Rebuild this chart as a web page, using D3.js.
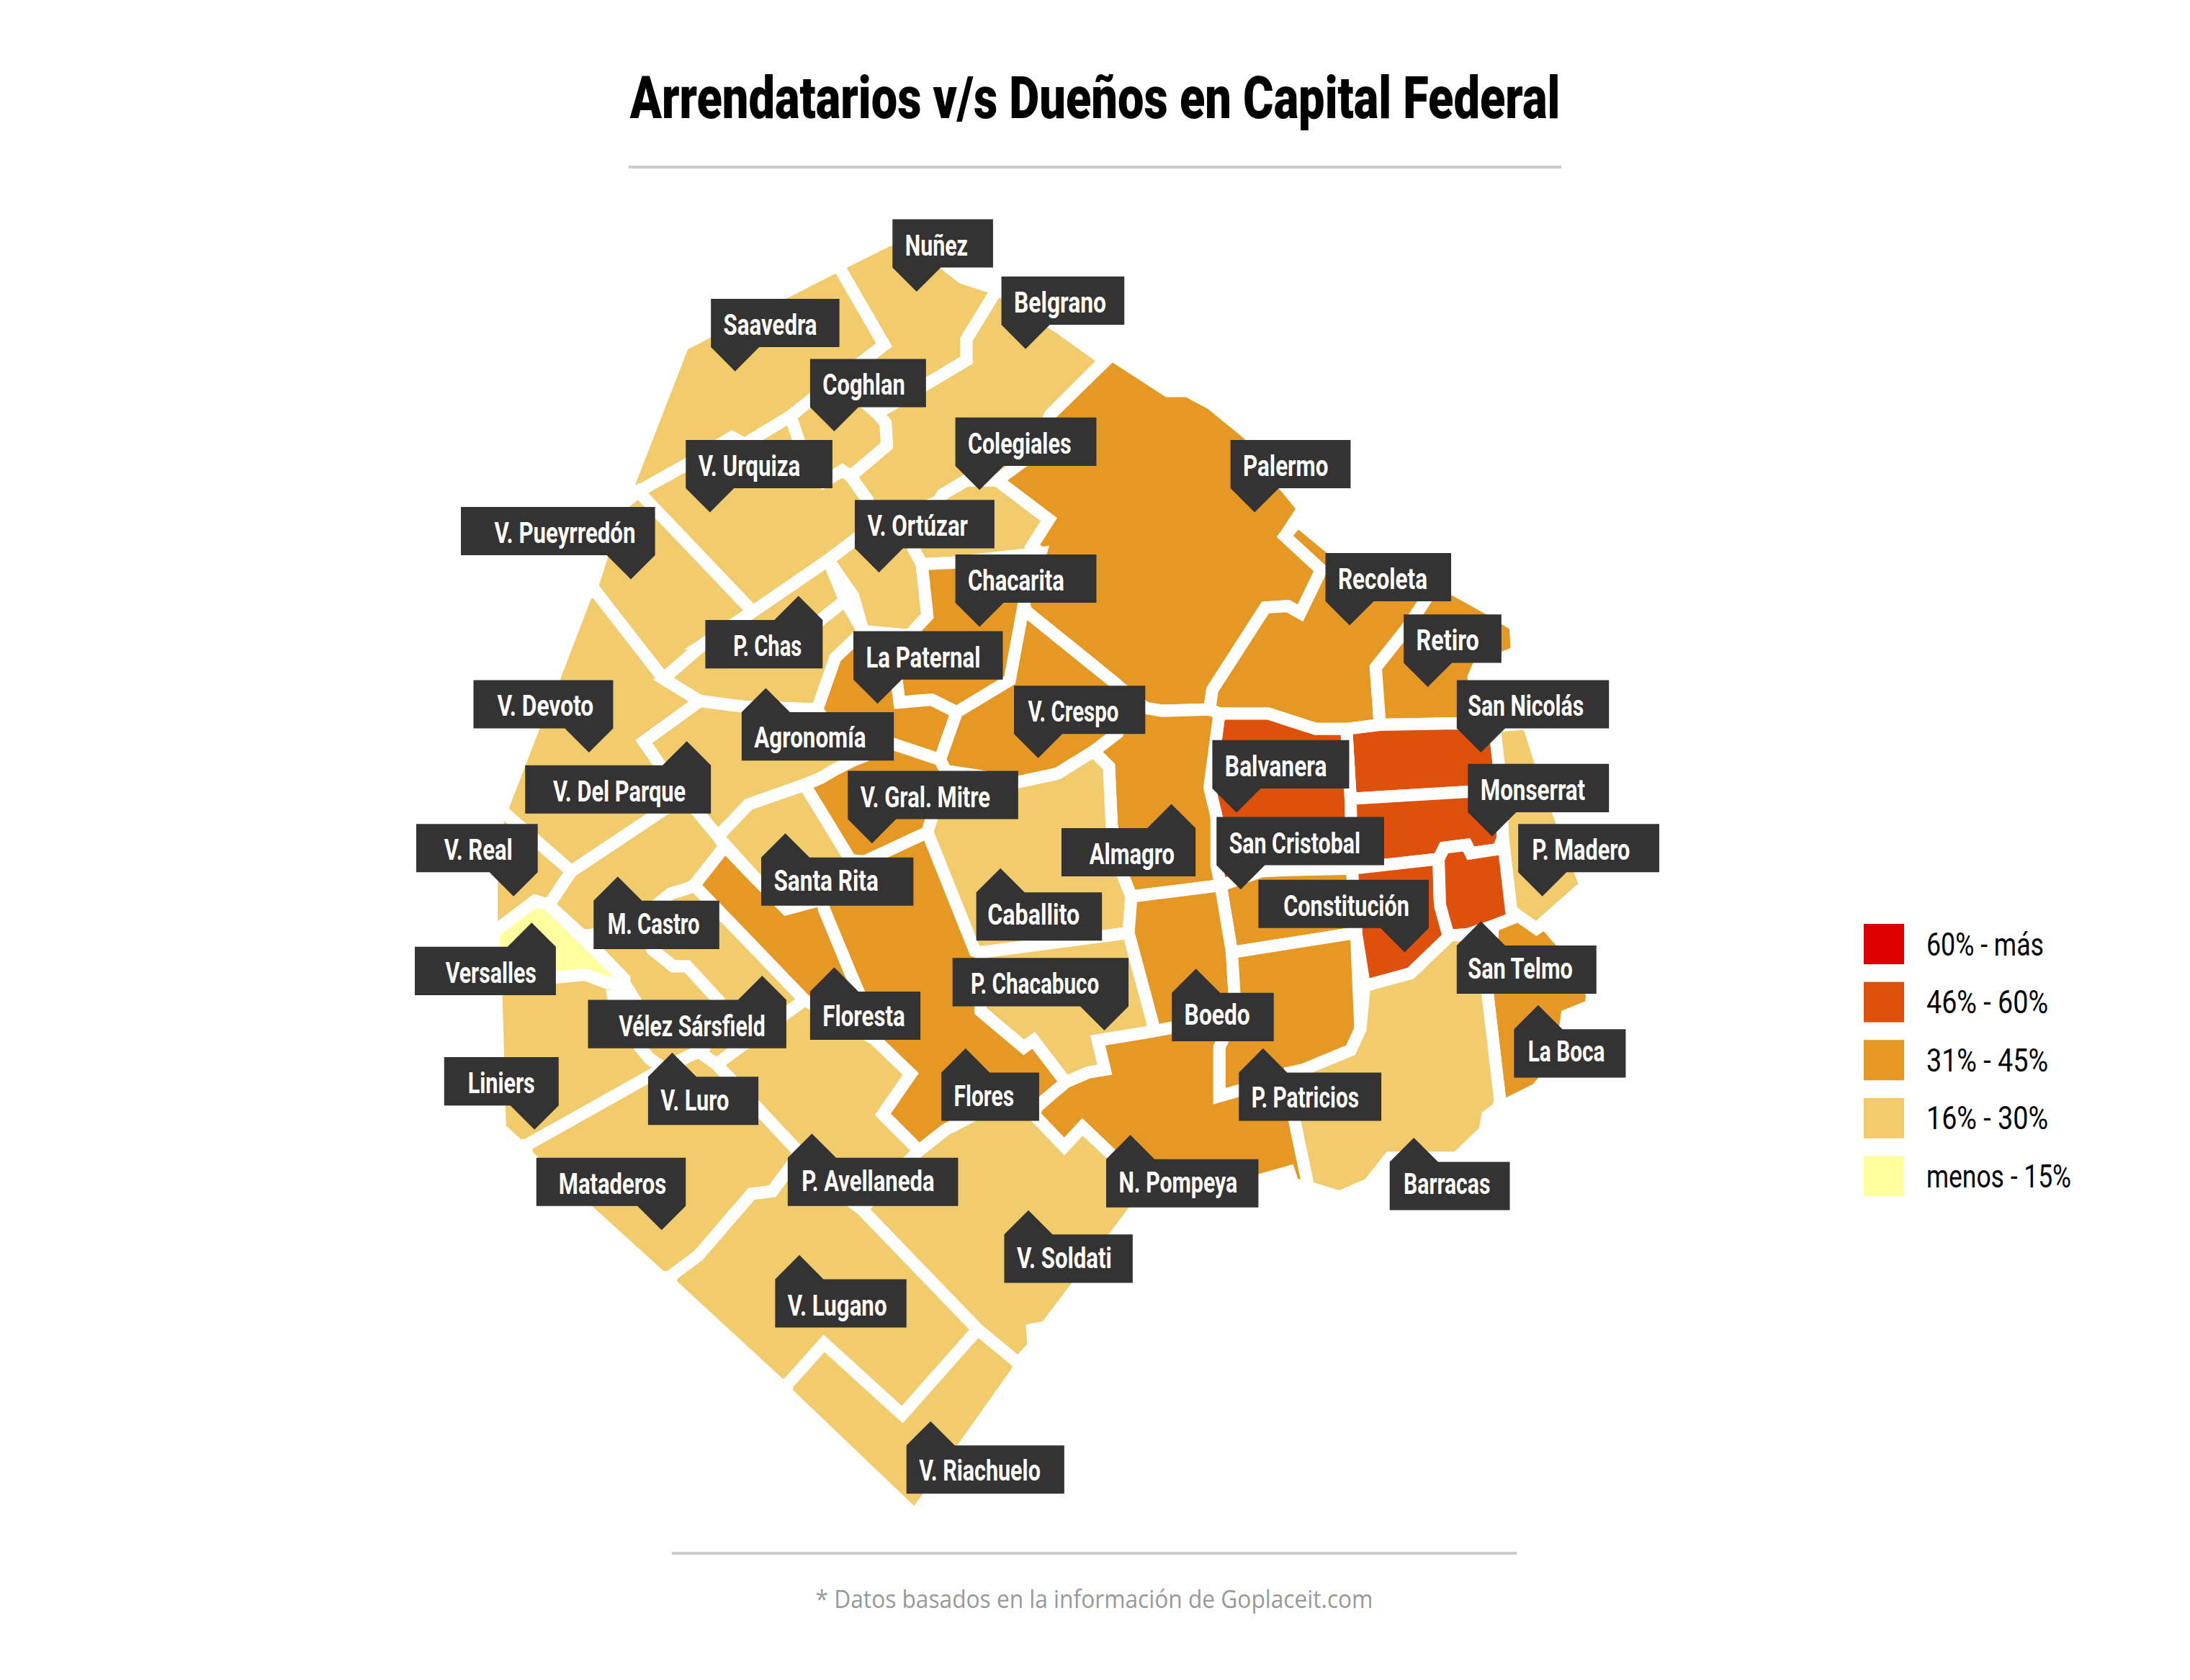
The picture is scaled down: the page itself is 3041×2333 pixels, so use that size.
<!DOCTYPE html>
<html>
<head>
<meta charset="utf-8">
<script src="https://cdn.jsdelivr.net/npm/d3@7"></script>
<style>
  html, body { margin: 0; padding: 0; background: #fff; }
</style>
</head>
<body>
<div id="mapa"></div>
<script>
const titulo = "Arrendatarios v/s Dueños en Capital Federal";
const nota = "* Datos basados en la información de Goplaceit.com";

// legend, top to bottom
const rangos = ["60% - más", "46% - 60%", "31% - 45%", "16% - 30%", "menos - 15%"];
const colores = ["#dd0000", "#df500d", "#e69825", "#f1cb6c", "#feff9f"];
const anchoLeyenda = [163, 169, 169, 169, 201];

const barrios = ["Nuñez", "Belgrano", "Saavedra", "Coghlan", "V. Urquiza", "Colegiales", "Palermo", "V. Ortúzar",
  "V. Pueyrredón", "Recoleta", "Chacarita", "Retiro", "P. Chas", "La Paternal", "San Nicolás", "V. Devoto",
  "V. Crespo", "Agronomía", "Balvanera", "V. Del Parque", "V. Gral. Mitre", "Monserrat", "San Cristobal", "V. Real",
  "Almagro", "P. Madero", "Santa Rita", "Constitución", "Caballito", "M. Castro", "Versalles", "San Telmo",
  "P. Chacabuco", "Boedo", "Floresta", "Vélez Sársfield", "La Boca", "Flores", "P. Patricios", "Liniers",
  "V. Luro", "Mataderos", "P. Avellaneda", "N. Pompeya", "Barracas", "V. Soldati", "V. Lugano", "V. Riachuelo"];

// range of each barrio, same order as barrios
const rangoBarrio = [3, 3, 3, 3, 3, 3, 2, 3,
  3, 2, 2, 2, 3, 2, 1, 3,
  2, 3, 1, 3, 2, 1, 2, 3,
  2, 3, 3, 1, 3, 3, 4, 1,
  3, 2, 2, 3, 2, 2, 2, 3,
  3, 3, 3, 2, 3, 3, 3, 3];

// barrio outlines in map units, same order as barrios
const contornos = [
  [[600,190],[638,171],[675,188],[689,199],[714,207],[692,243],[692,258],[628,296],[600,272],[633,247]],
  [[714,207],[759,235],[791,258],[752,297],[740,325],[714,344],[692,344],[675,354],[672,359],[650,368],[626,376],[621,358],[609,341],[635,319],[634,303],[628,296],[692,258],[692,243]],
  [[449,350],[489,247],[600,190],[633,247],[600,272],[581,286],[566,298],[533,318],[524,313],[491,333],[457,352]],
  [[566,298],[581,286],[600,272],[628,296],[634,303],[635,319],[609,341],[603,337],[590,345],[572,316]],
  [[457,352],[491,333],[524,313],[533,318],[566,298],[572,316],[590,345],[603,337],[609,341],[621,358],[626,376],[593,401],[539,438]],
  [[714,344],[751,372],[739,391],[745,396],[682,403],[660,404],[654,393],[650,368],[672,359],[675,354],[692,344]],
  [[796,254],[836,280],[850,280],[867,289],[894,311],[919,347],[933,364],[920,384],[946,408],[931,439],[922,434],[906,435],[868,494],[866,508],[832,509],[820,507],[805,495],[797,488],[735,438],[733,433],[745,396],[739,391],[751,372],[714,344],[740,325],[752,297]],
  [[626,376],[650,368],[654,393],[660,404],[664,441],[651,455],[618,452],[611,427],[593,401]],
  [[457,352],[539,438],[504,461],[475,486],[426,423],[424,420],[431,398],[446,361]],
  [[920,384],[929,373],[952,392],[1021,425],[1021,429],[1008,449],[985,478],[988,519],[964,522],[942,522],[908,511],[873,511],[866,508],[868,494],[906,435],[922,434],[931,439],[946,408]],
  [[660,404],[682,403],[745,396],[733,433],[723,487],[685,510],[667,501],[644,503],[641,480],[651,455],[664,441]],
  [[1021,429],[1021,425],[1039,421],[1066,436],[1085,448],[1086,467],[1058,478],[1055,485],[1056,490],[1070,520],[1042,518],[988,519],[985,478],[1008,449]],
  [[539,438],[593,401],[605,430],[565,462],[504,461]],
  [[618,452],[651,455],[641,480],[644,503],[667,501],[685,510],[673,544],[640,533],[610,545],[585,508],[598,471]],
  [[964,522],[988,519],[1042,518],[1070,520],[1075,565],[1051,567],[967,572]],
  [[426,423],[475,486],[501,502],[461,531],[472,547],[490,570],[409,624],[361,582],[360,578],[382,521],[397,485],[420,425]],
  [[733,433],[735,438],[797,488],[805,495],[800,525],[783,538],[757,554],[729,560],[677,552],[673,544],[685,510],[723,487]],
  [[475,486],[504,461],[565,462],[605,430],[618,452],[598,471],[585,508],[532,506],[501,502]],
  [[873,511],[908,511],[942,522],[964,522],[967,572],[968,622],[921,623],[903,624],[874,634],[871,620],[871,585],[866,564]],
  [[501,502],[532,506],[585,508],[610,545],[598,551],[588,557],[576,562],[536,576],[514,599],[490,570],[472,547],[461,531]],
  [[576,562],[588,557],[598,551],[610,545],[640,533],[673,544],[677,552],[664,596],[619,617],[609,616]],
  [[967,572],[1051,567],[1075,565],[1076,600],[1073,608],[1053,611],[1050,605],[1034,607],[1030,615],[968,622]],
  [[874,634],[903,624],[921,623],[968,622],[971,668],[882,682]],
  [[361,582],[409,624],[393,648],[383,645],[358,664],[352,663],[352,625],[357,585]],
  [[805,495],[820,507],[832,509],[866,508],[873,511],[866,564],[871,585],[871,620],[874,634],[810,642],[804,627],[796,592],[794,549],[783,538],[800,525]],
  [[1070,520],[1094,518],[1103,546],[1118,588],[1135,634],[1100,665],[1087,656],[1082,652],[1076,600],[1075,565]],
  [[514,599],[536,576],[576,562],[609,616],[589,644],[563,651],[541,629]],
  [[968,622],[1030,615],[1031,648],[1037,670],[1036,672],[1010,697],[977,706],[971,668]],
  [[664,596],[677,552],[729,560],[757,554],[783,538],[794,549],[796,592],[804,627],[810,642],[808,668],[702,682],[698,681]],
  [[409,624],[490,570],[514,599],[519,606],[497,634],[493,636],[480,640],[469,649],[466,665],[417,670],[393,648]],
  [[353,664],[358,664],[383,645],[393,648],[447,701],[447,704],[435,704],[419,698],[398,700],[355,700]],
  [[1030,615],[1034,607],[1050,605],[1053,611],[1073,608],[1076,600],[1082,652],[1087,656],[1069,663],[1051,669],[1037,670],[1031,648]],
  [[702,682],[808,668],[826,735],[823,739],[786,745],[791,766],[779,768],[763,775],[740,745],[733,750],[702,724]],
  [[810,642],[874,634],[882,682],[884,715],[883,727],[839,736],[823,739],[826,735],[808,668]],
  [[519,606],[541,629],[563,651],[589,644],[590,651],[609,697],[615,711],[626,744],[576,716],[497,634]],
  [[466,665],[469,649],[480,640],[493,636],[497,634],[576,716],[513,762],[500,753],[504,751],[514,716],[492,692],[482,692],[467,680]],
  [[1069,663],[1087,656],[1093,660],[1100,665],[1106,661],[1119,676],[1140,712],[1139,720],[1122,727],[1120,740],[1108,771],[1100,780],[1076,792],[1074,788],[1065,711]],
  [[664,596],[698,681],[702,682],[702,724],[733,750],[740,745],[763,775],[743,792],[700,797],[677,809],[658,824],[632,798],[652,769],[626,744],[615,711],[609,697],[590,651],[589,644],[609,616],[619,617]],
  [[882,682],[971,668],[974,737],[967,752],[933,766],[924,768],[926,790],[887,781],[873,785],[873,750],[883,727],[884,715]],
  [[355,700],[398,700],[419,698],[435,704],[447,704],[452,712],[439,713],[443,731],[465,758],[475,765],[377,820],[371,820],[358,808]],
  [[417,670],[466,665],[467,680],[482,692],[492,692],[514,716],[504,751],[500,753],[475,765],[465,758],[443,731],[439,713],[452,712],[447,704],[447,701]],
  [[377,820],[475,765],[500,753],[513,762],[571,824],[570,830],[553,853],[538,855],[500,899],[480,914],[474,915],[377,827]],
  [[513,762],[576,716],[626,744],[652,769],[632,798],[658,824],[650,832],[617,866],[570,830],[571,824]],
  [[743,792],[763,775],[779,768],[791,766],[786,745],[823,739],[839,736],[883,727],[873,750],[873,785],[887,781],[926,790],[927,803],[936,846],[936,850],[926,848],[923,839],[902,845],[830,860],[795,826],[775,807],[762,821],[740,798]],
  [[977,706],[1010,697],[1036,672],[1037,670],[1051,669],[1069,663],[1065,711],[1074,788],[1073,793],[1065,799],[1063,810],[1043,829],[995,829],[980,848],[959,857],[936,850],[936,846],[927,803],[924,768],[933,766],[967,752],[974,737]],
  [[658,824],[677,809],[700,797],[740,798],[762,821],[775,807],[795,826],[830,860],[812,867],[771,921],[749,950],[739,952],[740,964],[729,976],[700,952],[617,866],[650,832]],
  [[480,914],[500,899],[538,855],[553,853],[570,830],[617,866],[700,952],[646,1013],[590,962],[564,991],[559,992],[481,920]],
  [[564,991],[590,962],[646,1013],[700,952],[729,976],[729,981],[658,1081],[654,1085],[651,1081],[563,997]]
];

// label placement in map units, same order as barrios:
// left, right, top, pointer end, pointer direction, text start, text end
const etiquetas = [
  [639,711,157,"i",1,648,693], [717,805,198,"i",1,726,792], [509,601,214,"i",1,518,585], [580,663,257,"i",1,589,648],
  [491,596,315,"i",1,500,573], [684,785,299,"i",1,693,767], [881,967,315,"i",1,890,951], [612,712,358,"i",1,621,693],
  [330,469,363,"d",1,354,455], [949,1039,396,"i",1,958,1022], [684,785,397,"i",1,693,762], [1005,1075,440,"i",1,1014,1059],
  [505,589,444,"d",-1,525,574], [611,718,452,"i",1,620,702], [1043,1152,487,"i",1,1051,1134], [339,439,487,"d",1,356,425],
  [726,820,491,"i",1,736,801], [531,640,510,"i",-1,540,620], [868,966,530,"i",1,877,950], [376,509,548,"d",-1,396,491],
  [607,729,552,"i",1,616,709], [1051,1152,547,"i",1,1060,1135], [871,991,585,"i",1,880,974], [298,385,590,"d",1,318,367],
  [760,856,593,"d",-1,780,841], [1087,1188,590,"i",1,1097,1167], [545,654,614,"i",-1,554,629], [901,1023,630,"d",1,919,1009],
  [699,789,639,"i",-1,707,773], [425,515,645,"i",-1,435,501], [297,398,678,"d",-1,319,384], [1043,1143,677,"i",-1,1051,1126],
  [682,808,686,"d",1,695,787], [839,912,711,"i",-1,848,895], [580,659,710,"i",-1,589,648], [421,563,716,"d",-1,443,548],
  [1084,1164,737,"i",-1,1094,1149], [674,744,768,"i",-1,683,726], [887,989,768,"i",-1,896,973], [318,400,757,"d",1,335,383],
  [464,543,771,"i",-1,473,522], [384,491,829,"d",1,400,477], [564,686,829,"i",-1,574,669], [792,901,830,"i",-1,801,886],
  [995,1081,832,"i",-1,1005,1067], [719,811,884,"i",-1,728,796], [555,649,916,"i",-1,564,635], [649,762,1035,"i",-1,658,745]
];

// baseline of each label below the top of its box
const lineaTexto = [25.8, 25.8, 25.8, 25.8, 25.8, 25.8, 25.8, 25.8,
  25.8, 25.8, 25.8, 25.8, 26, 25.8, 25.8, 25.8,
  25.8, 25, 25.8, 26, 25.8, 25.8, 25.8, 25.8,
  26, 25.8, 24, 25.8, 23, 24, 26, 24,
  25.8, 23, 25, 26, 23, 24, 25, 25.8,
  24, 25.8, 24, 24, 23, 24, 26, 25];

const ancho = 3041, alto = 2333;
const x = d3.scaleLinear().domain([0, 1568]).range([0, ancho]);
const y = d3.scaleLinear().domain([0, 1203]).range([0, alto]);
const color = d3.scaleOrdinal(d3.range(rangos.length), colores);

const altoCaja = 34.6, mediaPunta = 17.3;
const fuente = "Roboto, 'Open Sans', sans-serif";

const svg = d3.select("#mapa").append("svg")
  .attr("width", ancho)
  .attr("height", alto)
  .style("display", "block");

svg.append("text")
  .attr("x", x(451))
  .attr("y", y(84.6))
  .attr("textLength", x(666))
  .attr("lengthAdjust", "spacingAndGlyphs")
  .style("font-family", fuente)
  .style("font-weight", 900)
  .style("font-size", "82px")
  .text(titulo);

svg.append("line")
  .attr("x1", x(450)).attr("x2", x(1118))
  .attr("y1", y(119.6)).attr("y2", y(119.6))
  .style("stroke", "#cccccc").style("stroke-width", 4);

svg.append("line")
  .attr("x1", x(481)).attr("x2", x(1086))
  .attr("y1", y(1112.3)).attr("y2", y(1112.3))
  .style("stroke", "#cccccc").style("stroke-width", 4);

svg.append("text")
  .attr("x", x(584))
  .attr("y", y(1151.2))
  .attr("textLength", x(399))
  .attr("lengthAdjust", "spacingAndGlyphs")
  .style("font-family", "'Open Sans', sans-serif")
  .style("font-size", "34px")
  .style("fill", "#999999")
  .text(nota);

const contorno = d3.line()
  .x(d => x(d[0]))
  .y(d => y(d[1]))
  .curve(d3.curveLinearClosed);

svg.append("g").selectAll("path")
  .data(contornos)
  .enter().append("path")
  .attr("d", contorno)
  .style("fill", (d, i) => color(rangoBarrio[i]))
  .style("stroke", "#ffffff")
  .style("stroke-width", 17)
  .style("stroke-linejoin", "miter");

// dark flag with its pointer at one end of the box
function bandera(e) {
  const [izq, der, arriba, lado, dir] = e;
  const abajo = arriba + altoCaja;
  const ini = lado === "i" ? izq : der - 2 * mediaPunta;
  const p = d3.path();
  p.moveTo(x(izq), y(arriba));
  if (dir < 0) {
    p.lineTo(x(ini), y(arriba));
    p.lineTo(x(ini + mediaPunta), y(arriba - mediaPunta));
    p.lineTo(x(ini + 2 * mediaPunta), y(arriba));
  }
  p.lineTo(x(der), y(arriba));
  p.lineTo(x(der), y(abajo));
  if (dir > 0) {
    p.lineTo(x(ini + 2 * mediaPunta), y(abajo));
    p.lineTo(x(ini + mediaPunta), y(abajo + mediaPunta));
    p.lineTo(x(ini), y(abajo));
  }
  p.lineTo(x(izq), y(abajo));
  p.closePath();
  return p.toString();
}

const banderas = svg.append("g").selectAll("g")
  .data(barrios)
  .enter().append("g");

banderas.append("path")
  .attr("d", (d, i) => bandera(etiquetas[i]))
  .style("fill", "#333333");

banderas.append("text")
  .attr("x", (d, i) => x(etiquetas[i][5]))
  .attr("y", (d, i) => y(etiquetas[i][2] + lineaTexto[i]))
  .attr("textLength", (d, i) => x(etiquetas[i][6] - etiquetas[i][5]))
  .attr("lengthAdjust", "spacingAndGlyphs")
  .style("font-family", fuente)
  .style("font-weight", 700)
  .style("font-size", "40px")
  .style("fill", "#ffffff")
  .text(d => d);

const filaLeyenda = d3.scaleBand().domain(rangos).range([1283, 1283 + 5 * 80.6]);

const leyenda = svg.append("g").selectAll("g")
  .data(rangos)
  .enter().append("g");

leyenda.append("rect")
  .attr("x", 2588)
  .attr("y", d => filaLeyenda(d))
  .attr("width", 56)
  .attr("height", 56)
  .style("fill", (d, i) => colores[i]);

leyenda.append("text")
  .attr("x", 2675)
  .attr("y", d => filaLeyenda(d) + 43.5)
  .attr("textLength", (d, i) => anchoLeyenda[i])
  .attr("lengthAdjust", "spacingAndGlyphs")
  .style("font-family", fuente)
  .style("font-size", "44px")
  .style("fill", "#000000")
  .text(d => d);
</script>
</body>
</html>
